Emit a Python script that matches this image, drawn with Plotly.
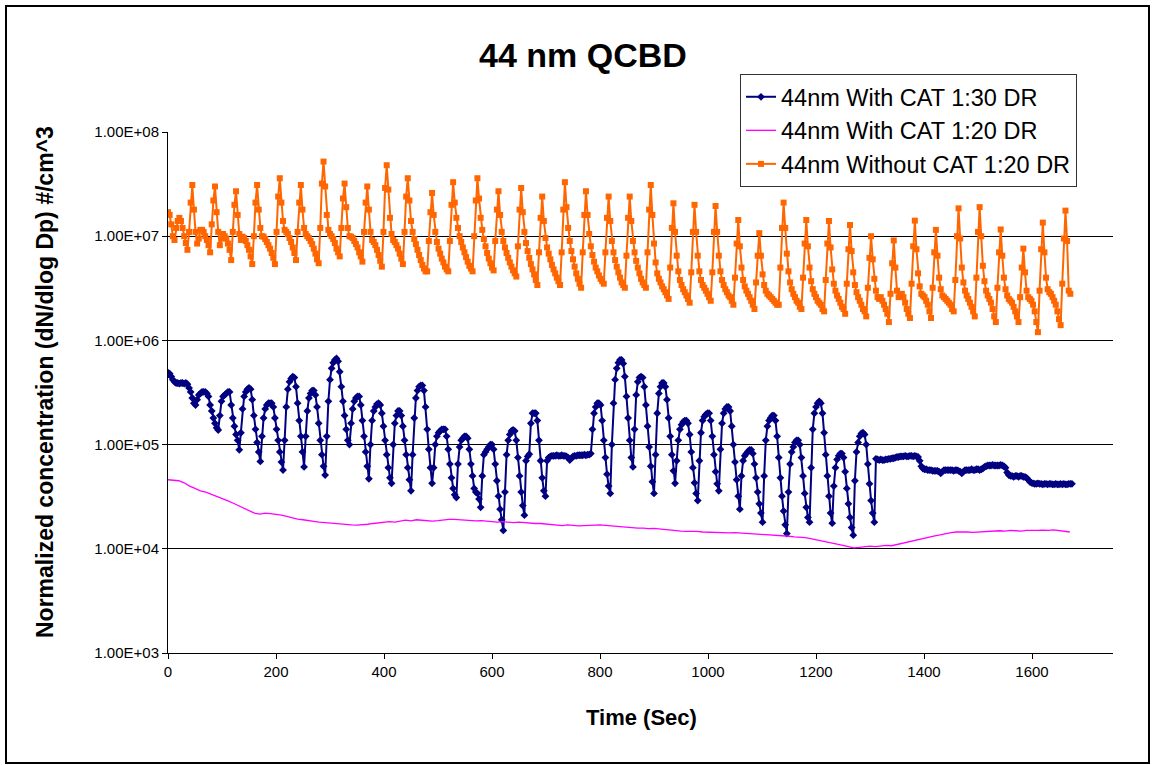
import numpy as np
import plotly.graph_objects as go

# Logging intervals (s)
MARKER_SERIES_STEP_S = 3
PINK_SERIES_STEP_S = 10

# 44nm With CAT 1:30 DR  (#/cm^3), one value every 3 s from t = 0
with_cat_1_30 = [
    4.9e5, 4.8e5, 4.5e5, 4.2e5, 4.0e5, 3.9e5, 3.9e5, 3.85e5, 3.9e5, 3.9e5,
    3.85e5, 3.9e5, 3.8e5, 3.5e5, 3.2e5, 2.8e5, 2.5e5, 2.4e5, 2.7e5, 3.0e5,
    3.1e5, 3.2e5, 3.2e5, 3.2e5, 3.1e5, 2.9e5, 2.4e5, 2.1e5, 1.8e5, 1.6e5,
    1.45e5, 1.38e5, 1.9e5, 2.6e5, 2.9e5, 3.0e5, 3.1e5, 3.2e5, 3.2e5, 2.4e5,
    1.8e5, 1.5e5, 1.25e5, 1.1e5, 8.9e4, 1.3e5, 2.2e5, 2.9e5, 3.2e5, 3.4e5,
    3.5e5, 3.4e5, 2.7e5, 1.9e5, 1.4e5, 1.05e5, 8.5e4, 6.9e4, 1.2e5, 1.8e5,
    2.2e5, 2.4e5, 2.5e5, 2.5e5, 2.5e5, 2.3e5, 1.8e5, 1.4e5, 1.1e5, 8.5e4,
    6.8e4, 5.7e4, 1.1e5, 2.3e5, 3.4e5, 4.0e5, 4.3e5, 4.5e5, 4.4e5, 3.6e5,
    2.5e5, 1.7e5, 1.2e5, 8.5e4, 6.1e4, 1.2e5, 2.1e5, 2.8e5, 3.1e5, 3.3e5,
    3.3e5, 3.0e5, 2.3e5, 1.6e5, 1.1e5, 8.0e4, 6.2e4, 5.1e4, 1.2e5, 2.6e5,
    4.2e5, 5.4e5, 6.1e5, 6.5e5, 6.7e5, 6.3e5, 5.0e5, 3.6e5, 2.6e5, 1.9e5,
    1.4e5, 1.1e5, 1.0e5, 1.6e5, 2.2e5, 2.6e5, 2.8e5, 2.9e5, 2.9e5, 2.4e5,
    1.7e5, 1.2e5, 8.5e4, 6.2e4, 4.7e4, 1.0e5, 1.7e5, 2.1e5, 2.3e5, 2.45e5,
    2.5e5, 2.4e5, 2.0e5, 1.5e5, 1.1e5, 8.0e4, 6.0e4, 4.8e4, 4.25e4, 1.0e5,
    1.6e5, 1.9e5, 2.1e5, 2.1e5, 1.9e5, 1.5e5, 1.1e5, 8.0e4, 6.0e4, 4.6e4,
    3.6e4, 8.0e4, 1.8e5, 2.8e5, 3.3e5, 3.6e5, 3.7e5, 3.7e5, 3.3e5, 2.3e5,
    1.4e5, 9.0e4, 6.0e4, 4.25e4, 6.0e4, 1.0e5, 1.2e5, 1.3e5, 1.35e5, 1.4e5,
    1.4e5, 1.4e5, 1.2e5, 9.0e4, 6.5e4, 4.8e4, 3.8e4, 3.3e4, 3.1e4, 6.5e4,
    9.5e4, 1.1e5, 1.15e5, 1.2e5, 1.2e5, 1.15e5, 9.0e4, 6.5e4, 5.0e4, 3.8e4,
    3.5e4, 3.4e4, 3.0e4, 2.5e4, 5.0e4, 8.0e4, 8.5e4, 9.0e4, 9.5e4, 1.0e5,
    1.0e5, 9.0e4, 6.5e4, 4.5e4, 3.2e4, 2.4e4, 1.9e4, 1.5e4, 3.5e4, 8.0e4,
    1.1e5, 1.25e5, 1.35e5, 1.38e5, 1.35e5, 1.1e5, 7.5e4, 5.0e4, 3.5e4, 2.6e4,
    2.1e4, 7.0e4, 7.7e4, 8.1e4, 1.6e5, 2.0e5, 2.0e5, 2.0e5, 1.7e5, 1.1e5,
    7.0e4, 4.8e4, 3.6e4, 3.2e4, 7.0e4, 7.5e4, 7.7e4, 7.8e4, 7.8e4, 7.8e4,
    7.9e4, 7.8e4, 7.8e4, 7.9e4, 7.8e4, 7.8e4, 7.7e4, 7.5e4, 7.1e4, 7.4e4,
    7.7e4, 7.8e4, 7.8e4, 7.9e4, 7.9e4, 7.9e4, 7.9e4, 8.0e4, 7.9e4, 8.0e4,
    8.0e4, 8.2e4, 1.4e5, 2.0e5, 2.3e5, 2.5e5, 2.5e5, 2.4e5, 1.7e5, 1.1e5,
    7.5e4, 5.2e4, 4.0e4, 3.4e4, 1.0e5, 2.5e5, 4.2e5, 5.4e5, 6.1e5, 6.5e5,
    6.5e5, 6.0e5, 4.5e5, 2.9e5, 1.8e5, 1.1e5, 7.5e4, 6.1e4, 1.4e5, 3.0e5,
    4.0e5, 4.4e5, 4.5e5, 4.4e5, 3.6e5, 2.4e5, 1.5e5, 9.5e4, 6.2e4, 4.4e4,
    3.4e4, 8.0e4, 2.0e5, 3.1e5, 3.6e5, 3.9e5, 3.9e5, 3.6e5, 2.7e5, 1.8e5,
    1.2e5, 8.0e4, 5.6e4, 4.25e4, 7.0e4, 1.1e5, 1.4e5, 1.55e5, 1.65e5, 1.7e5,
    1.7e5, 1.6e5, 1.25e5, 8.5e4, 6.0e4, 4.3e4, 3.4e4, 2.9e4, 7.0e4, 1.3e5,
    1.7e5, 1.85e5, 1.95e5, 2.0e5, 2.0e5, 1.7e5, 1.2e5, 8.0e4, 5.5e4, 4.2e4,
    3.6e4, 9.0e4, 1.6e5, 2.0e5, 2.2e5, 2.3e5, 2.3e5, 2.1e5, 1.5e5, 1.0e5,
    6.8e4, 4.6e4, 3.2e4, 2.4e4, 5.0e4, 7.0e4, 7.8e4, 8.2e4, 8.6e4, 8.9e4,
    8.9e4, 8.2e4, 6.5e4, 4.8e4, 3.5e4, 2.7e4, 2.2e4, 1.8e4, 5.0e4, 1.1e5,
    1.5e5, 1.7e5, 1.8e5, 1.9e5, 1.9e5, 1.7e5, 1.2e5, 7.5e4, 4.8e4, 3.2e4,
    2.3e4, 1.7e4, 1.4e4, 3.5e4, 6.5e4, 8.5e4, 9.5e4, 1.05e5, 1.1e5, 1.1e5,
    1.0e5, 7.5e4, 5.0e4, 3.4e4, 2.5e4, 2.0e4, 1.8e4, 6.0e4, 1.4e5, 2.0e5,
    2.3e5, 2.5e5, 2.6e5, 2.5e5, 2.0e5, 1.3e5, 8.0e4, 5.0e4, 3.2e4, 2.2e4,
    1.76e4, 4.0e4, 6.0e4, 7.2e4, 7.8e4, 8.2e4, 8.2e4, 7.5e4, 5.5e4, 3.8e4,
    2.7e4, 2.0e4, 1.6e4, 1.35e4, 4.5e4, 8.5e4, 1.05e5, 1.2e5, 1.28e5, 1.3e5,
    1.25e5, 1.0e5, 6.5e4, 4.2e4, 2.9e4, 2.2e4, 1.8e4, 7.3e4,
    7.2e4, 7.1e4, 7.2e4, 7.1e4, 7.1e4, 7.2e4, 7.2e4, 7.3e4, 7.3e4, 7.4e4,
    7.4e4, 7.5e4, 7.6e4, 7.6e4, 7.7e4, 7.7e4, 7.7e4, 7.8e4, 7.7e4, 7.7e4,
    7.8e4, 7.8e4, 7.7e4, 7.8e4, 7.7e4, 7.6e4, 7.0e4, 6.2e4, 5.9e4,
    5.8e4, 5.8e4, 5.7e4, 5.7e4, 5.7e4, 5.6e4, 5.6e4, 5.6e4, 5.6e4, 5.5e4, 5.3e4,
    5.5e4, 5.7e4, 5.7e4, 5.7e4, 5.7e4, 5.7e4, 5.7e4, 5.6e4, 5.7e4, 5.7e4, 5.6e4, 5.5e4, 5.3e4,
    5.5e4, 5.7e4, 5.7e4, 5.7e4, 5.7e4, 5.8e4, 5.7e4, 5.7e4, 5.8e4, 5.8e4, 5.7e4, 5.8e4, 5.9e4,
    6.1e4, 6.2e4,
    6.3e4, 6.3e4, 6.3e4, 6.4e4, 6.3e4, 6.3e4, 6.3e4, 6.3e4, 6.4e4, 6.3e4, 6.2e4, 6.0e4,
    5.4e4, 5.1e4,
    5.0e4, 5.0e4, 4.9e4, 5.0e4, 5.0e4, 4.9e4, 5.0e4, 5.0e4, 4.9e4, 4.9e4, 4.8e4,
    4.6e4, 4.4e4,
    4.3e4, 4.25e4, 4.2e4, 4.2e4, 4.25e4, 4.2e4, 4.2e4, 4.15e4, 4.2e4, 4.2e4,
    4.15e4, 4.2e4, 4.2e4, 4.15e4, 4.15e4, 4.2e4, 4.15e4, 4.15e4, 4.2e4, 4.15e4,
    4.2e4, 4.15e4, 4.15e4, 4.2e4, 4.2e4, 4.2e4,
]

# 44nm With CAT 1:20 DR  (#/cm^3), one value every 10 s from t = 0
with_cat_1_20 = [
    4.6e4, 4.55e4, 4.5e4, 4.3e4, 4.0e4, 3.8e4, 3.6e4, 3.5e4, 3.35e4, 3.2e4,
    3.05e4, 2.9e4, 2.75e4, 2.6e4, 2.45e4, 2.3e4, 2.2e4, 2.15e4, 2.2e4, 2.18e4,
    2.15e4, 2.1e4, 2.05e4, 1.98e4, 1.93e4, 1.9e4, 1.85e4, 1.83e4, 1.8e4, 1.78e4,
    1.78e4, 1.76e4, 1.72e4, 1.7e4, 1.7e4, 1.69e4, 1.7e4, 1.72e4, 1.75e4, 1.78e4,
    1.8e4, 1.82e4, 1.8e4, 1.85e4, 1.88e4, 1.85e4, 1.9e4, 1.88e4, 1.86e4, 1.84e4,
    1.86e4, 1.9e4, 1.92e4, 1.92e4, 1.9e4, 1.88e4, 1.86e4, 1.85e4, 1.86e4, 1.84e4,
    1.82e4, 1.8e4, 1.82e4, 1.8e4, 1.78e4, 1.8e4, 1.78e4, 1.76e4, 1.75e4, 1.75e4,
    1.73e4, 1.7e4, 1.68e4, 1.67e4, 1.7e4, 1.68e4, 1.66e4, 1.67e4, 1.68e4, 1.7e4,
    1.7e4, 1.68e4, 1.66e4, 1.65e4, 1.62e4, 1.6e4, 1.6e4, 1.58e4, 1.58e4, 1.56e4,
    1.57e4, 1.55e4, 1.52e4, 1.5e4, 1.5e4, 1.48e4, 1.47e4, 1.48e4, 1.47e4, 1.45e4,
    1.44e4, 1.45e4, 1.44e4, 1.43e4, 1.42e4, 1.43e4, 1.42e4, 1.4e4, 1.38e4, 1.38e4,
    1.36e4, 1.37e4, 1.35e4, 1.33e4, 1.34e4, 1.32e4, 1.3e4, 1.3e4, 1.28e4, 1.25e4,
    1.22e4, 1.2e4, 1.17e4, 1.15e4, 1.12e4, 1.08e4, 1.05e4, 1.02e4, 1.03e4, 1.04e4,
    1.06e4, 1.05e4, 1.07e4, 1.08e4, 1.07e4, 1.1e4, 1.14e4, 1.17e4, 1.2e4, 1.24e4,
    1.27e4, 1.3e4, 1.33e4, 1.36e4, 1.4e4, 1.43e4, 1.45e4, 1.46e4, 1.45e4, 1.44e4,
    1.45e4, 1.47e4, 1.46e4, 1.48e4, 1.49e4, 1.48e4, 1.5e4, 1.49e4, 1.48e4, 1.5e4,
    1.49e4, 1.5e4, 1.51e4, 1.5e4, 1.52e4, 1.5e4, 1.48e4, 1.45e4,
]

# 44nm Without CAT 1:20 DR  (#/cm^3), one value every 3 s from t = 0
without_cat_1_20 = [
    1.7e7, 1.6e7, 1.3e7, 1.0e7, 9.2e6, 1.2e7, 1.4e7, 1.5e7, 1.4e7, 1.2e7, 1.0e7, 8.6e6, 7.4e6, 1.1e7, 2.1e7, 3.1e7,
    1.8e7, 1.1e7, 8.5e6, 9.5e6, 1.15e7, 1.15e7, 1.1e7, 1.0e7, 9.2e6, 8.2e6, 7.0e6, 1.3e7, 2.2e7, 3.0e7,
    1.7e7, 1.1e7, 8.2e6, 9.5e6, 1.05e7, 1.0e7, 9.5e6, 8.5e6, 7.4e6, 5.9e6, 1.1e7, 2.0e7, 2.7e7,
    1.6e7, 1.05e7, 9.2e6, 9.9e6, 9.6e6, 9.0e6, 8.2e6, 7.4e6, 6.4e6, 5.4e6, 1.0e7, 2.1e7, 3.1e7,
    1.8e7, 1.2e7, 1.0e7, 9.9e6, 9.4e6, 8.8e6, 8.2e6, 7.6e6, 6.9e6, 6.2e6, 5.4e6, 1.1e7, 2.4e7, 3.6e7,
    2.1e7, 1.4e7, 1.15e7, 1.1e7, 1.05e7, 9.6e6, 8.8e6, 7.8e6, 6.9e6, 5.9e6, 1.1e7, 2.1e7, 3.1e7,
    1.8e7, 1.2e7, 1.05e7, 1.0e7, 9.6e6, 9.0e6, 8.4e6, 7.6e6, 6.8e6, 6.0e6, 5.5e6, 1.2e7, 3.2e7, 5.2e7,
    3.0e7, 1.6e7, 1.15e7, 1.05e7, 1.0e7, 9.4e6, 8.6e6, 7.6e6, 7.0e6, 6.4e6, 1.2e7, 2.3e7, 3.2e7,
    1.9e7, 1.2e7, 1.0e7, 9.9e6, 9.6e6, 9.0e6, 8.4e6, 7.8e6, 7.0e6, 6.4e6, 5.7e6, 1.1e7, 2.1e7, 3.0e7,
    1.8e7, 1.1e7, 9.2e6, 8.8e6, 8.2e6, 7.4e6, 6.6e6, 5.8e6, 5.1e6, 1.1e7, 2.9e7, 4.8e7,
    2.8e7, 1.5e7, 1.05e7, 9.2e6, 8.8e6, 8.2e6, 7.6e6, 6.8e6, 6.1e6, 5.4e6, 1.1e7, 2.4e7, 3.6e7,
    2.2e7, 1.4e7, 1.1e7, 9.4e6, 8.4e6, 7.4e6, 6.6e6, 5.9e6, 5.3e6, 4.9e6, 4.6e6, 4.6e6, 9.0e6, 1.7e7, 2.6e7,
    1.6e7, 1.1e7, 8.8e6, 7.6e6, 6.8e6, 6.1e6, 5.6e6, 5.1e6, 4.8e6, 4.6e6, 9.0e6, 2.0e7, 3.3e7,
    2.1e7, 1.5e7, 1.2e7, 1.0e7, 8.8e6, 7.8e6, 7.0e6, 6.3e6, 5.7e6, 5.2e6, 4.9e6, 4.6e6, 1.0e7, 2.2e7, 3.6e7,
    2.3e7, 1.5e7, 1.15e7, 9.4e6, 8.0e6, 6.9e6, 6.1e6, 5.5e6, 5.0e6, 4.7e6, 9.0e6, 1.8e7, 2.7e7,
    1.6e7, 1.1e7, 9.0e6, 7.8e6, 6.9e6, 6.2e6, 5.6e6, 5.1e6, 4.7e6, 4.4e6, 4.1e6, 8.0e6, 1.8e7, 2.9e7,
    1.7e7, 1.1e7, 8.6e6, 7.2e6, 6.2e6, 5.4e6, 4.8e6, 4.3e6, 3.8e6, 3.4e6, 7.0e6, 1.5e7, 2.4e7,
    1.4e7, 9.6e6, 7.8e6, 6.8e6, 6.0e6, 5.3e6, 4.8e6, 4.4e6, 4.0e6, 3.7e6, 3.4e6, 7.0e6, 1.8e7, 3.3e7,
    1.9e7, 1.2e7, 9.0e6, 7.2e6, 6.0e6, 5.1e6, 4.4e6, 3.9e6, 3.5e6, 3.2e6, 7.0e6, 1.6e7, 2.7e7,
    1.6e7, 1.05e7, 8.0e6, 6.6e6, 5.7e6, 5.0e6, 4.6e6, 4.2e6, 3.9e6, 3.7e6, 3.5e6, 7.0e6, 1.5e7, 2.4e7,
    1.4e7, 9.0e6, 7.0e6, 5.9e6, 5.1e6, 4.5e6, 4.0e6, 3.6e6, 3.4e6, 3.2e6, 6.5e6, 1.5e7, 2.4e7,
    1.4e7, 9.0e6, 7.0e6, 5.8e6, 5.0e6, 4.4e6, 3.9e6, 3.6e6, 3.4e6, 3.2e6, 7.0e6, 1.8e7, 3.1e7,
    1.6e7, 8.5e6, 5.6e6, 4.4e6, 3.9e6, 3.6e6, 3.3e6, 3.1e6, 2.9e6, 2.7e6, 2.5e6, 5.0e6, 1.2e7, 2.07e7,
    1.1e7, 6.5e6, 4.6e6, 3.8e6, 3.4e6, 3.1e6, 2.9e6, 2.7e6, 2.5e6, 2.3e6, 4.5e6, 1.1e7, 2.0e7,
    1.1e7, 6.5e6, 4.6e6, 3.8e6, 3.4e6, 3.2e6, 3.0e6, 2.8e6, 2.6e6, 2.4e6, 4.5e6, 1.1e7, 1.95e7,
    1.1e7, 6.5e6, 4.6e6, 3.8e6, 3.4e6, 3.1e6, 2.9e6, 2.7e6, 2.6e6, 2.4e6, 2.2e6, 4.0e6, 8.5e6, 1.43e7,
    8.0e6, 5.0e6, 3.8e6, 3.3e6, 3.0e6, 2.8e6, 2.6e6, 2.4e6, 2.2e6, 2.0e6, 3.6e6, 6.5e6, 1.07e7,
    6.5e6, 4.3e6, 3.4e6, 3.0e6, 2.8e6, 2.7e6, 2.6e6, 2.5e6, 2.4e6, 2.3e6, 2.2e6, 2.2e6, 5.0e6, 1.2e7, 2.1e7,
    1.2e7, 6.8e6, 4.6e6, 3.6e6, 3.1e6, 2.8e6, 2.6e6, 2.4e6, 2.3e6, 2.1e6, 2.0e6, 4.0e6, 8.5e6, 1.43e7,
    8.0e6, 5.0e6, 3.7e6, 3.1e6, 2.8e6, 2.6e6, 2.4e6, 2.3e6, 2.2e6, 2.0e6, 1.9e6, 3.8e6, 8.5e6, 1.4e7,
    7.8e6, 4.8e6, 3.5e6, 3.0e6, 2.7e6, 2.5e6, 2.3e6, 2.1e6, 2.0e6, 1.8e6, 3.5e6, 7.5e6, 1.28e7,
    7.2e6, 4.5e6, 3.4e6, 2.9e6, 2.6e6, 2.4e6, 2.2e6, 2.0e6, 1.9e6, 1.7e6, 3.2e6, 6.2e6, 1.0e7,
    6.0e6, 3.9e6, 3.0e6, 2.6e6, 2.5e6, 2.6e6, 2.4e6, 2.2e6, 2.0e6, 1.8e6, 1.5e6, 2.8e6, 5.5e6, 9.1e6,
    5.0e6, 3.0e6, 2.6e6, 2.7e6, 2.8e6, 2.6e6, 2.3e6, 2.0e6, 1.8e6, 1.64e6, 3.5e6, 8.0e6, 1.41e7,
    7.5e6, 4.4e6, 3.3e6, 2.8e6, 2.7e6, 2.6e6, 2.4e6, 2.2e6, 1.9e6, 1.64e6, 3.2e6, 7.0e6, 1.15e7,
    6.5e6, 4.0e6, 3.1e6, 2.7e6, 2.6e6, 2.5e6, 2.4e6, 2.3e6, 2.2e6, 2.0e6, 1.9e6, 3.8e6, 1.0e7, 1.85e7,
    9.5e6, 5.0e6, 3.6e6, 3.0e6, 2.7e6, 2.5e6, 2.3e6, 2.1e6, 1.9e6, 1.7e6, 4.0e6, 1.1e7, 1.9e7,
    1.0e7, 5.2e6, 3.7e6, 3.0e6, 2.7e6, 2.5e6, 2.3e6, 2.0e6, 1.7e6, 1.5e6, 3.2e6, 7.0e6, 1.16e7,
    6.5e6, 4.0e6, 3.1e6, 2.7e6, 2.5e6, 2.4e6, 2.3e6, 2.1e6, 1.9e6, 1.7e6, 1.5e6, 2.6e6, 5.0e6, 7.6e6,
    4.5e6, 3.0e6, 2.6e6, 2.5e6, 2.4e6, 2.2e6, 1.9e6, 1.5e6, 1.2e6, 3.0e6, 7.5e6, 1.35e7,
    7.0e6, 4.0e6, 3.1e6, 2.9e6, 2.8e6, 2.6e6, 2.4e6, 2.2e6, 1.9e6, 1.6e6, 1.4e6, 3.5e6, 9.5e6, 1.76e7,
    9.0e6, 3.0e6, 2.8e6,
]

y_tick_vals = [1e3, 1e4, 1e5, 1e6, 1e7, 1e8]
y_tick_text = ["1.00E+03", "1.00E+04", "1.00E+05", "1.00E+06", "1.00E+07", "1.00E+08"]
x_tick_vals = [0, 200, 400, 600, 800, 1000, 1200, 1400, 1600]

t_1_30 = np.arange(len(with_cat_1_30)) * MARKER_SERIES_STEP_S
t_1_20 = np.arange(len(with_cat_1_20)) * PINK_SERIES_STEP_S
t_no_cat = np.arange(len(without_cat_1_20)) * MARKER_SERIES_STEP_S

FONT = "Arial, Liberation Sans, sans-serif"
W, H = 1153, 765
L, R, T, B = 168, 1113, 132, 653   # plot area in pixels

fig = go.Figure()
fig.add_trace(go.Scatter(
    x=t_1_30, y=with_cat_1_30, mode="lines+markers",
    name="44nm With CAT 1:30 DR",
    line=dict(color="#000080", width=2),
    marker=dict(symbol="diamond", size=6, color="#000080"),
))
fig.add_trace(go.Scatter(
    x=t_1_20, y=with_cat_1_20, mode="lines",
    name="44nm With CAT 1:20 DR",
    line=dict(color="#FF00FF", width=1.3),
))
fig.add_trace(go.Scatter(
    x=t_no_cat, y=without_cat_1_20, mode="lines+markers",
    name="44nm Without CAT 1:20 DR",
    line=dict(color="#FF6600", width=2),
    marker=dict(symbol="square", size=6, color="#FF6600"),
))

pw, ph = R - L, B - T
def px(x):
    return (x - L) / pw
def py(y):
    return (B - y) / ph

fig.update_layout(
    width=W, height=H,
    margin=dict(l=L, r=W - R, t=T, b=H - B, pad=0),
    paper_bgcolor="white", plot_bgcolor="white",
    font=dict(family=FONT, color="black"),
    title=dict(text="<b>44 nm QCBD</b>", x=583 / W, xanchor="center",
               y=1 - 55 / H, yanchor="middle", font=dict(size=34, family=FONT)),
    showlegend=True,
    legend=dict(x=px(740), y=py(74), xanchor="left", yanchor="top",
                bgcolor="white", bordercolor="#333333", borderwidth=1,
                font=dict(size=23.5, family=FONT), traceorder="normal",
                itemwidth=30),
    xaxis=dict(range=[0, 1750], tickvals=x_tick_vals, ticks="outside", ticklen=5,
               tickcolor="black", showline=True, linecolor="black", linewidth=1,
               showgrid=False, zeroline=False, tickfont=dict(size=15, family=FONT)),
    yaxis=dict(type="log", range=[3, 8], tickvals=y_tick_vals, ticktext=y_tick_text,
               ticks="outside", ticklen=5, tickcolor="black", showline=True,
               linecolor="black", linewidth=1, showgrid=True, gridcolor="black",
               gridwidth=1, zeroline=False, tickfont=dict(size=15, family=FONT)),
    annotations=[
        dict(text="<b>Time (Sec)</b>", xref="paper", yref="paper", x=px(641), y=py(717),
             xanchor="center", yanchor="middle", showarrow=False,
             font=dict(size=22, family=FONT)),
        dict(text="<b>Normalized concentration (dN/dlog Dp) #/cm^3</b>", xref="paper",
             yref="paper", x=px(45), y=py(382), xanchor="center", yanchor="middle",
             textangle=-90, showarrow=False, font=dict(size=23, family=FONT)),
    ],
    shapes=[dict(type="rect", xref="paper", yref="paper", x0=px(6), x1=px(1149),
                 y0=py(763), y1=py(6), line=dict(color="black", width=2))],
)

fig.write_html("out.html")
